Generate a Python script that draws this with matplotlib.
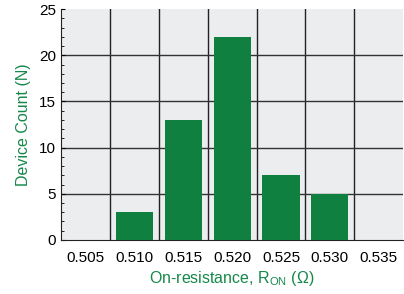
import numpy as np
import matplotlib.pyplot as plt
from matplotlib.ticker import MultipleLocator

plt.rcParams['font.family'] = ['Liberation Sans', 'DejaVu Sans']

labels = ['0.505', '0.510', '0.515', '0.520', '0.525', '0.530', '0.535']
counts = [0, 3, 13, 22, 7, 5, 0]

green = '#0f8040'
label_green = '#16884a'

fig = plt.figure(figsize=(4.04, 2.94), dpi=100)
ax = fig.add_axes([0.151, 0.184, 0.847, 0.785])
ax.set_facecolor('#ecedef')

x = np.arange(len(labels))
ax.bar(x, counts, width=0.76, color=green, zorder=3)

ax.set_xlim(-0.5, len(labels) - 0.5)
ax.set_ylim(0, 25)
ax.set_xticks(x)
ax.set_xticklabels(labels, fontsize=11)
ax.set_yticks(np.arange(0, 26, 5))
ax.tick_params(axis='y', labelsize=11, direction='in', length=3)
ax.tick_params(axis='x', length=0, pad=8)
ax.yaxis.set_minor_locator(MultipleLocator(1))
ax.tick_params(axis='y', which='minor', direction='in', length=2)

# grid: verticals at category boundaries, horizontals every 5
for b in np.arange(0.5, len(labels) - 0.5, 1):
    ax.axvline(b, color='#222222', lw=1, zorder=1)
for v in [5, 10, 15, 20]:
    ax.axhline(v, color='#333333', lw=1, zorder=1)

for s in ['top', 'right']:
    ax.spines[s].set_visible(False)
ax.spines['left'].set_color('#222222')
ax.spines['bottom'].set_color('#222222')

ax.set_ylabel('Device Count (N)', color=label_green, fontsize=11.5, labelpad=6)
ax.set_xlabel('On-resistance, R$_{\\mathregular{ON}}$ (\u03a9)', color=label_green,
              fontsize=11.5, labelpad=3)

fig.savefig('out.png', dpi=100)
